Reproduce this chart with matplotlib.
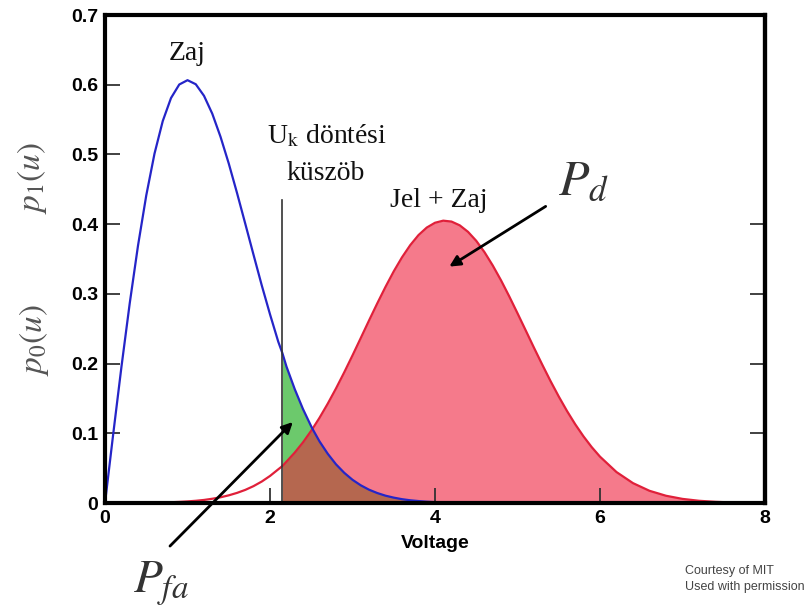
import matplotlib
matplotlib.use("Agg")
import matplotlib.pyplot as plt
import numpy as np

# voltage grid, with the threshold and the curve crossing as extra points
u = [0.0, 0.1, 0.2, 0.3, 0.4, 0.5, 0.6, 0.7, 0.8, 0.9, 1.0,
     1.1, 1.2, 1.3, 1.4, 1.5, 1.6, 1.7, 1.8, 1.9, 2.0,
     2.1, 2.15, 2.2, 2.3, 2.4, 2.5, 2.52, 2.6, 2.7, 2.8, 2.9, 3.0,
     3.1, 3.2, 3.3, 3.4, 3.5, 3.6, 3.7, 3.8, 3.9, 4.0,
     4.1, 4.2, 4.3, 4.4, 4.5, 4.6, 4.7, 4.8, 4.9, 5.0,
     5.1, 5.2, 5.3, 5.4, 5.5, 5.6, 5.7, 5.8, 5.9, 6.0,
     6.2, 6.4, 6.6, 6.8, 7.0, 7.2, 7.4, 7.6, 7.8, 8.0]

# noise only density p0(u)
noise = [0.0, 0.0995, 0.196, 0.2868, 0.3692, 0.4412, 0.5012, 0.5479, 0.5809, 0.6003, 0.6065,
         0.6007, 0.5841, 0.5585, 0.5254, 0.4870, 0.4448, 0.4007, 0.3562, 0.3122, 0.2707,
         0.2314, 0.215, 0.1956, 0.1633, 0.1347, 0.1098, 0.1053, 0.0884, 0.0706, 0.0555, 0.0433, 0.0333,
         0.0254, 0.0191, 0.0143, 0.0105, 0.0077, 0.0055, 0.0039, 0.0028, 0.0019, 0.0013,
         0.0009, 0.0006, 0.0004, 0.0003, 0.0002, 0.0001, 0.0001, 0.0, 0.0, 0.0,
         0.0, 0.0, 0.0, 0.0, 0.0, 0.0, 0.0, 0.0, 0.0, 0.0,
         0.0, 0.0, 0.0, 0.0, 0.0, 0.0, 0.0, 0.0, 0.0, 0.0]

# signal + noise density p1(u)
signal = [0.0, 0.00001, 0.00005, 0.0001, 0.0002, 0.0003, 0.0005, 0.0007, 0.0011, 0.0016, 0.0023,
          0.0032, 0.0044, 0.0061, 0.0082, 0.0110, 0.0145, 0.0188, 0.0242, 0.0308, 0.0388,
          0.0483, 0.053, 0.0594, 0.0723, 0.0870, 0.1037, 0.1073, 0.1222, 0.1425, 0.1643, 0.1875, 0.2117,
          0.2366, 0.2617, 0.2863, 0.3100, 0.3323, 0.3524, 0.3699, 0.3843, 0.3951, 0.402,
          0.405, 0.4037, 0.3983, 0.389, 0.3761, 0.3598, 0.3407, 0.3195, 0.2964, 0.2722,
          0.2475, 0.2227, 0.1985, 0.1750, 0.1528, 0.1320, 0.1129, 0.0956, 0.0801, 0.0665,
          0.0444, 0.0285, 0.0175, 0.0104, 0.0059, 0.0032, 0.0017, 0.0008, 0.0004, 0.0002]

threshold = 2.15
threshold_top = 0.435

xticks = [0, 2, 4, 6, 8]
yticks = [0, 0.1, 0.2, 0.3, 0.4, 0.5, 0.6, 0.7]

u = np.array(u)
noise = np.array(noise)
signal = np.array(signal)

plt.rcParams["mathtext.fontset"] = "stix"

fig = plt.figure(figsize=(8.09, 6.15), dpi=100)
ax = fig.add_axes([0.1298, 0.1821, 0.8158, 0.7935])

right = u >= threshold
low = np.minimum(noise, signal)

# detection region, false alarm region and their overlap
ax.fill_between(u, 0, signal, where=right, color="#f57a8b", lw=0)
ax.fill_between(u, signal, noise, where=right & (noise > signal), interpolate=True,
                color="#6cc96c", lw=0)
ax.fill_between(u, 0, low, where=right, color="#b5674f", lw=0)

ax.plot(u, signal, color="#e0203a", lw=1.6)
ax.plot(u, noise, color="#2525c8", lw=1.6)
ax.plot([threshold, threshold], [0, threshold_top], color="#333333", lw=1.2)

ax.set_xlim(0, 8)
ax.set_ylim(0, 0.7)
ax.set_xticks(xticks)
ax.set_xticklabels([str(t) for t in xticks])
ax.set_yticks(yticks)
ax.set_yticklabels(["0"] + ["%.1f" % t for t in yticks[1:]])
for lab in ax.get_xticklabels() + ax.get_yticklabels():
    lab.set_fontfamily("Liberation Sans")
    lab.set_fontweight("bold")
    lab.set_fontsize(14)
ax.tick_params(direction="in", length=11, width=1.3, color="#333333", pad=5)

sec = ax.secondary_yaxis("right")
sec.set_yticks([0.1, 0.2, 0.3, 0.4])
sec.tick_params(direction="in", length=11, width=1.3, color="#333333", labelright=False)
sec.spines["right"].set_linewidth(3)

for s in ax.spines.values():
    s.set_linewidth(3)

ax.set_xlabel("Voltage", fontfamily="Liberation Sans", fontweight="bold", fontsize=14, labelpad=6)

serif = dict(fontfamily="Liberation Serif", fontsize=20, color="#111111")
ax.text(1.0, 0.636, "Zaj", ha="center", va="baseline", **serif)
ax.text(2.69, 0.516, r"U$_\mathrm{k}$ döntési", ha="center", va="baseline", **serif)
ax.text(2.68, 0.463, "küszöb", ha="center", va="baseline", **serif)
ax.text(4.05, 0.425, "Jel + Zaj", ha="center", va="baseline", **serif)

ax.text(5.49, 0.442, r"$P_d$", fontsize=36, color="#333333", ha="left", va="baseline")
ax.text(0.34, -0.129, r"$P_{fa}$", fontsize=34, color="#333333", ha="left", va="baseline",
        clip_on=False)

ax.annotate("", xy=(4.145, 0.337), xytext=(5.37, 0.4276),
            arrowprops=dict(arrowstyle="-|>", color="black", lw=2, mutation_scale=16))
ax.annotate("", xy=(2.30, 0.119), xytext=(0.764, -0.0646), annotation_clip=False,
            arrowprops=dict(arrowstyle="-|>", color="black", lw=2, mutation_scale=16))

fig.text(0.04, 0.71, r"$p_1\left(u\right)$", rotation=90, fontsize=24, color="#555555",
         ha="center", va="center")
fig.text(0.042, 0.447, r"$p_0\left(u\right)$", rotation=90, fontsize=24, color="#555555",
         ha="center", va="center")

fig.text(0.847, 0.0585, "Courtesy of MIT\nUsed with permission", fontfamily="Liberation Sans",
         fontsize=9, color="#444444", ha="left", va="center", linespacing=1.4)

fig.savefig("out.png", dpi=100)
